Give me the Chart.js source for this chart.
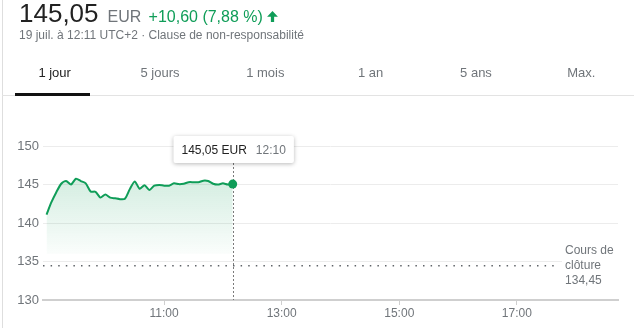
<!DOCTYPE html>
<html lang="fr">
<head>
  <meta charset="UTF-8">
  <title>Cours 1 jour</title>
  <script src="https://cdn.jsdelivr.net/npm/chart.js"></script>
  <style>
    body {
      margin: 0;
      width: 634px;
      height: 328px;
      overflow: hidden;
      background: #fff;
      position: relative;
      font-family: Arial, "Liberation Sans", sans-serif;
    }
    #priceChart { position: absolute; left: 0; top: 0; }
    .edge { position: absolute; left: 2px; top: 0; width: 1px; height: 328px; background: #dedede; }
    .quote { position: absolute; left: 19px; top: 1px; font-size: 26px; line-height: 25px; color: #222; white-space: nowrap; }
    .quote .cur { font-size: 16px; color: #70757a; margin-left: 9px; }
    .quote .chg { font-size: 16px; color: #0f9d58; margin-left: 0px; }
    .quote svg { width: 13px; height: 13px; fill: #0f9d58; vertical-align: -1px; margin-left: 3px; }
    .meta { position: absolute; left: 19px; top: 29px; font-size: 12px; line-height: 12px; color: #70757a; white-space: nowrap; }
    .tabs { position: absolute; left: 2px; top: 66px; width: 632px; display: flex; }
    .tabs div { flex: 1; text-align: center; font-size: 13px; line-height: 13px; color: #70757a; }
    .tabs div.on { color: #222; }
    .tabline { position: absolute; left: 2px; top: 95px; width: 632px; height: 1px; background: #e3e3e3; }
    .tabsel { position: absolute; left: 15px; top: 93px; width: 75px; height: 3px; background: #111; }
  </style>
</head>
<body>
  <canvas id="priceChart" width="634" height="328"></canvas>
  <div class="edge"></div>
  <div class="quote"><span id="last"></span><span class="cur">EUR</span> <span class="chg" id="change"></span><svg viewBox="0 0 24 24"><path d="M12 2 L22 12.5 H15 V22 H9 V12.5 H2 Z"/></svg></div>
  <div class="meta">19 juil. à 12:11 UTC+2 · Clause de non-responsabilité</div>
  <div class="tabs">
    <div class="on">1 jour</div><div>5 jours</div><div>1 mois</div><div>1 an</div><div>5 ans</div><div>Max.</div>
  </div>
  <div class="tabline"></div>
  <div class="tabsel"></div>

  <script>
    // cours toutes les 5 minutes
    const priceTimes = [
      '09:00', '09:05', '09:10', '09:15', '09:20', '09:25', '09:30', '09:35', '09:40', '09:45',
      '09:50', '09:55', '10:00', '10:05', '10:10', '10:15', '10:20', '10:25', '10:30', '10:35',
      '10:40', '10:45', '10:50', '10:55', '11:00', '11:05', '11:10', '11:15', '11:20', '11:25',
      '11:30', '11:35', '11:40', '11:45', '11:50', '11:55', '12:00', '12:05', '12:10'
    ];
    const priceValues = [
      141.1, 142.7, 144.0, 145.1, 145.45, 145.0, 145.75, 145.45, 145.15, 144.1,
      144.05, 143.3, 143.7, 143.3, 143.2, 143.1, 143.15, 144.4, 145.4, 144.45,
      144.9, 144.3, 144.85, 144.95, 144.85, 144.85, 145.15, 145.05, 145.1, 145.3,
      145.3, 145.3, 145.5, 145.45, 145.1, 145.0, 145.15, 145.0, 145.05
    ];
    const closePrice = 134.45;
    const closeLabel = ['Cours de', 'clôture'];
    const xTickLabels = ['11:00', '13:00', '15:00', '17:00'];
    const yTickValues = [130, 135, 140, 145, 150];
    const currency = 'EUR';

    const toHours = t => { const [h, m] = t.split(':').map(Number); return h + m / 60; };
    const fmt = v => v.toFixed(2).replace('.', ',');

    const last = priceValues[priceValues.length - 1];
    const diff = last - closePrice;
    document.getElementById('last').textContent = fmt(last);
    document.getElementById('change').textContent =
      (diff >= 0 ? '+' : '') + fmt(diff) + ' (' + fmt(diff / closePrice * 100) + ' %)';

    const GREEN = '#0f9d58';
    const GREY = '#70757a';
    const FONT = 'Arial, "Liberation Sans", sans-serif';
    const xStart = 8.94, xEnd = 18.72, closeEnd = 17.7;

    const extras = {
      id: 'extras',
      beforeDatasetsDraw(chart) {
        const ctx = chart.ctx;
        const pt = chart.getDatasetMeta(0).data.at(-1);
        const x = Math.round(pt.x) + 0.5;
        ctx.save();
        ctx.strokeStyle = '#7a7a7a';
        ctx.lineWidth = 1;
        ctx.setLineDash([2, 2]);
        ctx.beginPath();
        ctx.moveTo(x, chart.chartArea.top + 17);
        ctx.lineTo(x, chart.chartArea.bottom);
        ctx.stroke();
        ctx.restore();
      },
      afterDraw(chart) {
        const ctx = chart.ctx;
        const ca = chart.chartArea;
        const pt = chart.getDatasetMeta(0).data.at(-1);

        // étiquette du dernier cours
        ctx.save();
        ctx.font = '12px ' + FONT;
        const t1 = fmt(last) + ' ' + currency;
        const t2 = priceTimes.at(-1);
        const w1 = ctx.measureText(t1).width, w2 = ctx.measureText(t2).width;
        const bw = 8 + w1 + 9 + w2 + 8, bh = 27;
        const bx = Math.round(pt.x - bw / 2) + 0.5, by = ca.top - 10;
        ctx.shadowColor = 'rgba(0,0,0,0.28)';
        ctx.shadowBlur = 4;
        ctx.shadowOffsetY = 1;
        ctx.fillStyle = '#fff';
        ctx.beginPath();
        ctx.roundRect(bx, by, bw, bh, 2);
        ctx.fill();
        ctx.shadowColor = 'transparent';
        ctx.textBaseline = 'middle';
        ctx.fillStyle = '#222';
        ctx.fillText(t1, bx + 8, by + bh / 2 + 1);
        ctx.fillStyle = GREY;
        ctx.fillText(t2, bx + 8 + w1 + 9, by + bh / 2 + 1);

        // cours de clôture
        const cy = chart.scales.y.getPixelForValue(closePrice);
        const tx = chart.scales.x.getPixelForValue(closeEnd) + 7;
        ctx.fillStyle = '#fff';
        ctx.fillRect(tx - 3, cy - 24, ca.right - tx + 3, 46);
        ctx.font = '12px ' + FONT;
        ctx.fillStyle = GREY;
        [closeLabel[0], closeLabel[1], fmt(closePrice)].forEach((s, i) => {
          ctx.fillText(s, tx, cy - 15 + i * 15);
        });
        ctx.restore();
      }
    };

    const ctx = document.getElementById('priceChart').getContext('2d');
    new Chart(ctx, {
      type: 'line',
      data: {
        datasets: [
          {
            data: priceTimes.map((t, i) => ({ x: toHours(t), y: priceValues[i] })),
            borderColor: GREEN,
            borderWidth: 2,
            tension: 0.25,
            pointRadius: c => c.dataIndex === priceValues.length - 1 ? 4.5 : 0,
            pointBackgroundColor: GREEN,
            pointBorderWidth: 0,
            fill: { value: 136 },
            backgroundColor: c => {
              const chart = c.chart;
              if (!chart.chartArea) return 'rgba(15,157,88,0.1)';
              const g = chart.ctx.createLinearGradient(0, chart.chartArea.top + 32, 0, chart.scales.y.getPixelForValue(136));
              g.addColorStop(0, 'rgba(15,157,88,0.18)');
              g.addColorStop(1, 'rgba(15,157,88,0.02)');
              return g;
            }
          },
          {
            data: [{ x: xStart, y: closePrice }, { x: closeEnd, y: closePrice }],
            borderColor: '#5f6368',
            borderWidth: 1.5,
            borderDash: [1.5, 6.1],
            pointRadius: 0,
            fill: false
          }
        ]
      },
      options: {
        responsive: false,
        animation: false,
        events: [],
        layout: { padding: { top: 146, right: 16, left: 0, bottom: 0 } },
        plugins: { legend: { display: false }, tooltip: { enabled: false } },
        scales: {
          x: {
            type: 'linear',
            min: xStart,
            max: xEnd,
            afterBuildTicks: s => { s.ticks = xTickLabels.map(l => ({ value: toHours(l) })); },
            afterFit: s => { s.height = 28; },
            ticks: {
              autoSkip: false,
              maxRotation: 0,
              padding: 1,
              color: GREY,
              font: { family: FONT, size: 12 },
              callback: (v, i) => xTickLabels[i]
            },
            grid: { drawOnChartArea: false, tickLength: 5, color: '#cfcfcf' },
            border: { color: '#cfcfcf', width: 2 }
          },
          y: {
            min: yTickValues[0],
            max: yTickValues[yTickValues.length - 1],
            afterBuildTicks: s => { s.ticks = yTickValues.map(v => ({ value: v })); },
            afterFit: s => { s.width = 43; },
            ticks: {
              padding: 4,
              color: GREY,
              font: { family: FONT, size: 13 },
              callback: v => String(v)
            },
            grid: {
              drawTicks: false,
              color: c => c.tick.value === yTickValues[0] ? 'rgba(0,0,0,0)' : '#ececec'
            },
            border: { display: false }
          }
        }
      },
      plugins: [extras]
    });
  </script>
</body>
</html>
